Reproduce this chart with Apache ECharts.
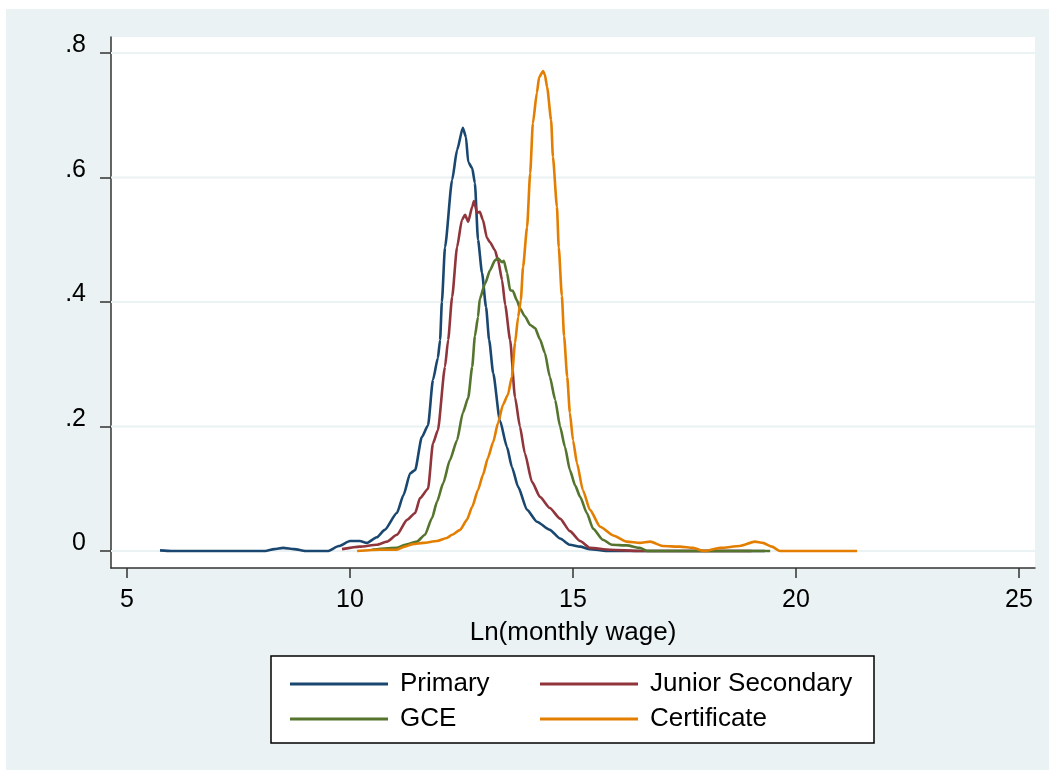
<!DOCTYPE html>
<html>
<head>
<meta charset="utf-8">
<script src="https://cdn.jsdelivr.net/npm/echarts@6/dist/echarts.min.js"></script>
<style>
html,body{margin:0;padding:0;background:#fff;}
#chart{width:1051px;height:774px;}
</style>
</head>
<body>
<div id="chart"></div>
<script>
// ---- data ----
const seriesNames = ['Primary', 'Junior Secondary', 'GCE', 'Certificate'];
const xTicks = [5, 10, 15, 20, 25];
const yTicks = [0, 0.2, 0.4, 0.6, 0.8];
const xTitle = 'Ln(monthly wage)';

const primaryX = [5.74,6.0,8.1,8.3,8.5,8.75,9.0,9.5,9.75,10.0,10.22,10.38,10.6,10.78,11.05,11.2,11.35,11.46,11.61,11.75,11.86,11.97,12.02,12.06,12.13,12.29,12.40,12.53,12.60,12.65,12.74,12.80,12.87,12.96,13.05,13.12,13.21,13.36,13.52,13.63,13.77,13.97,14.19,14.48,14.71,14.93,15.16,15.38,15.76,19.3];
const primaryY = [0.001,0.0,0.0,0.003,0.005,0.003,0.0,0.0,0.008,0.016,0.016,0.013,0.022,0.034,0.061,0.09,0.125,0.13,0.183,0.202,0.275,0.31,0.339,0.40,0.488,0.596,0.644,0.68,0.665,0.625,0.615,0.591,0.50,0.447,0.392,0.339,0.286,0.21,0.167,0.135,0.103,0.066,0.047,0.034,0.02,0.01,0.007,0.003,0.0,0.0];

const juniorX = [9.82,10.22,10.6,10.83,11.05,11.28,11.46,11.57,11.75,11.86,11.97,12.13,12.2,12.29,12.40,12.51,12.58,12.65,12.74,12.78,12.85,12.91,12.98,13.07,13.14,13.25,13.32,13.41,13.48,13.59,13.70,13.81,13.92,14.08,14.26,14.48,14.71,14.93,15.16,15.38,15.83,16.5,19.0];
const juniorY = [0.003,0.007,0.01,0.015,0.026,0.05,0.061,0.085,0.10,0.173,0.194,0.296,0.339,0.408,0.488,0.532,0.54,0.529,0.553,0.562,0.543,0.545,0.532,0.503,0.496,0.483,0.467,0.435,0.395,0.339,0.247,0.20,0.157,0.111,0.087,0.069,0.052,0.032,0.016,0.005,0.002,0.0,0.0];

const gceX = [10.49,11.05,11.23,11.50,11.68,11.84,11.95,12.09,12.24,12.40,12.53,12.65,12.74,12.80,12.87,12.91,13.03,13.14,13.25,13.32,13.41,13.45,13.52,13.59,13.65,13.74,13.81,13.92,14.04,14.15,14.26,14.37,14.48,14.60,14.71,14.82,14.93,15.05,15.16,15.31,15.45,15.67,15.87,16.21,16.5,16.66,19.42];
const gceY = [0.002,0.005,0.01,0.015,0.026,0.053,0.079,0.109,0.146,0.178,0.222,0.246,0.296,0.345,0.376,0.405,0.43,0.451,0.467,0.47,0.464,0.466,0.447,0.419,0.418,0.403,0.39,0.377,0.363,0.358,0.34,0.318,0.28,0.243,0.20,0.167,0.13,0.105,0.087,0.061,0.036,0.018,0.01,0.009,0.005,0.0,0.0];

const certX = [10.16,10.67,11.05,11.23,11.41,11.64,11.95,12.17,12.29,12.47,12.62,12.74,12.87,12.98,13.09,13.21,13.32,13.43,13.54,13.63,13.70,13.77,13.83,13.88,13.97,14.04,14.10,14.19,14.24,14.33,14.37,14.42,14.51,14.55,14.64,14.68,14.75,14.80,14.87,14.93,15.0,15.09,15.22,15.38,15.61,15.90,16.21,16.5,16.73,17.02,17.40,17.69,17.94,18.30,18.74,19.08,19.26,19.46,19.64,21.37];
const certY = [0.0,0.002,0.002,0.007,0.011,0.013,0.016,0.021,0.026,0.034,0.05,0.071,0.098,0.122,0.149,0.175,0.206,0.235,0.251,0.28,0.334,0.376,0.403,0.456,0.52,0.607,0.687,0.736,0.761,0.771,0.765,0.745,0.692,0.633,0.553,0.488,0.41,0.345,0.28,0.222,0.178,0.141,0.098,0.066,0.039,0.025,0.015,0.013,0.015,0.008,0.007,0.005,0.0,0.005,0.008,0.015,0.013,0.007,0.0,0.0];

// ---- styling / layout ----
const colors = ['#1a476f', '#90353b', '#55752f', '#e37e00'];
const FONT = '"Liberation Sans", Arial, sans-serif';
const X_MIN = 4.6413, X_MAX = 25.3587;
const Y_MIN = -0.0273, Y_MAX = 0.8257;

function pairs(xs, ys) { return xs.map((x, i) => [x, ys[i]]); }
const seriesData = [pairs(primaryX, primaryY), pairs(juniorX, juniorY), pairs(gceX, gceY), pairs(certX, certY)];

const chart = echarts.init(document.getElementById('chart'), null, {renderer: 'canvas'});

// horizontal gridlines drawn as plain line series spanning the axis range
const gridSeries = yTicks.map((v, i) => ({
  name: '_grid' + i,
  type: 'line',
  data: [[X_MIN, v], [X_MAX, v]],
  showSymbol: false,
  symbol: 'none',
  silent: true,
  z: 1,
  lineStyle: {color: '#eaf2f3', width: 2},
  emphasis: {disabled: true},
  tooltip: {show: false},
  animation: false
}));

const lineSeries = seriesNames.map((name, i) => ({
  name: name,
  type: 'line',
  data: seriesData[i],
  showSymbol: false,
  symbol: 'none',
  smooth: 0.2,
  smoothMonotone: 'x',
  z: 3,
  lineStyle: {color: colors[i], width: 2.6},
  itemStyle: {color: colors[i]},
  emphasis: {disabled: true},
  animation: false
}));

const legendText = {fontSize: 26, fontFamily: FONT, color: '#000', lineHeight: 26, padding: [0, 0, 0, 7]};

const option = {
  backgroundColor: '#ffffff',
  animation: false,
  graphic: [
    {type: 'rect', z: -10, silent: true, shape: {x: 6, y: 9, width: 1043, height: 761}, style: {fill: '#eaf2f3'}},
    {type: 'rect', z: 2, silent: true, shape: {x: 271, y: 656, width: 603, height: 87}, style: {fill: '#ffffff', stroke: '#000', lineWidth: 1.5}}
  ],
  grid: {left: 111, top: 37, width: 924, height: 531, show: true, backgroundColor: '#ffffff', borderWidth: 0, containLabel: false},
  legend: [
    {data: [seriesNames[0], seriesNames[2]], orient: 'vertical', left: 285, top: 666, itemWidth: 98, itemHeight: 3, itemGap: 9, icon: 'rect', selectedMode: false, textStyle: legendText, z: 5},
    {data: [seriesNames[1], seriesNames[3]], orient: 'vertical', left: 535, top: 666, itemWidth: 98, itemHeight: 3, itemGap: 9, icon: 'rect', selectedMode: false, textStyle: legendText, z: 5}
  ],
  xAxis: {
    type: 'value', min: X_MIN, max: X_MAX,
    name: xTitle, nameLocation: 'middle', nameGap: 52,
    nameTextStyle: {fontSize: 26, fontFamily: FONT, color: '#000'},
    axisLine: {show: true, onZero: false, lineStyle: {color: '#333', width: 1.5}},
    axisTick: {show: true, length: 10, customValues: xTicks, lineStyle: {color: '#333', width: 1.5}},
    axisLabel: {show: true, customValues: xTicks, margin: 20, fontSize: 25, fontFamily: FONT, color: '#000', formatter: v => String(v)},
    splitLine: {show: false}
  },
  yAxis: {
    type: 'value', min: Y_MIN, max: Y_MAX,
    axisLine: {show: true, onZero: false, lineStyle: {color: '#333', width: 1.5}},
    axisTick: {show: true, length: 11, customValues: yTicks, lineStyle: {color: '#333', width: 1.5}},
    axisLabel: {show: true, customValues: yTicks, margin: 25, fontSize: 25, fontFamily: FONT, color: '#000',
      verticalAlign: 'bottom', lineHeight: 15,
      formatter: v => (Math.abs(v) < 1e-9 ? '0' : String(Math.round(v * 10) / 10).replace(/^0/, ''))},
    splitLine: {show: false}
  },
  series: gridSeries.concat(lineSeries)
};

chart.setOption(option);
</script>
</body>
</html>
